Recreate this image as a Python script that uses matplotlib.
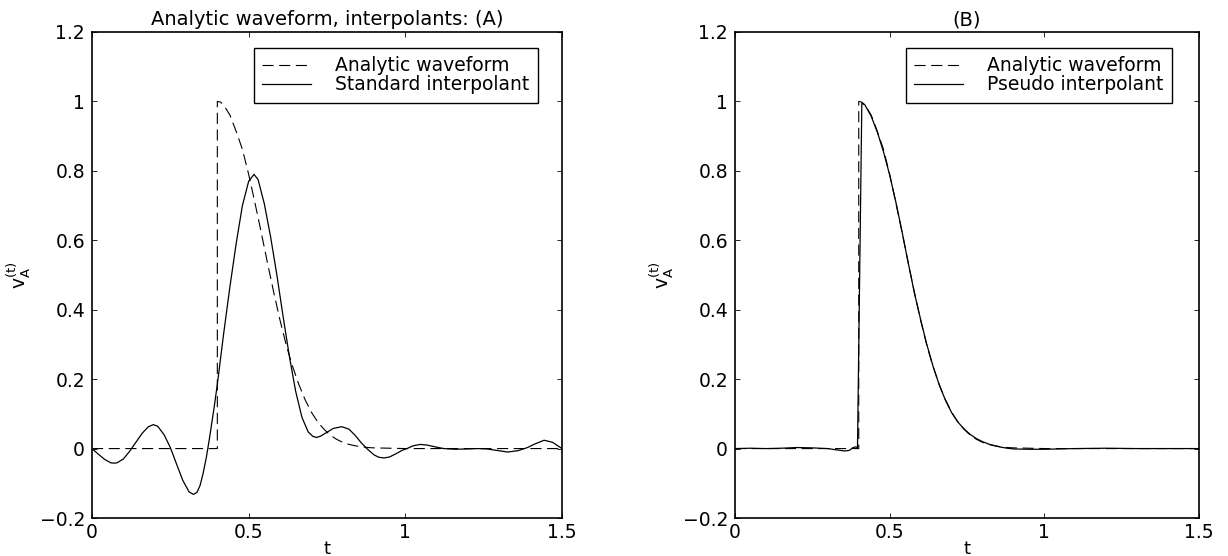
import matplotlib
matplotlib.use("Agg")
import matplotlib.pyplot as plt

# ---------------- data ----------------
t_analytic = [0.00, 0.40, 0.40, 0.41, 0.42, 0.44, 0.46, 0.48, 0.50, 0.52, 0.54,
              0.56, 0.58, 0.60, 0.62, 0.64, 0.66, 0.68, 0.70, 0.72, 0.74, 0.76,
              0.78, 0.80, 0.82, 0.84, 0.86, 0.88, 0.90, 0.95, 1.00, 1.50]
v_analytic = [0.000, 0.000, 1.000, 0.998, 0.990, 0.961, 0.914, 0.862, 0.790,
              0.708, 0.623, 0.535, 0.450, 0.370, 0.298, 0.237, 0.185, 0.141,
              0.105, 0.077, 0.056, 0.039, 0.027, 0.018, 0.012, 0.008, 0.005,
              0.003, 0.002, 0.001, 0.000, 0.000]

t_standard = [0.00, 0.02, 0.04, 0.06, 0.07, 0.08, 0.10, 0.12, 0.14, 0.16, 0.18,
              0.196, 0.21, 0.23, 0.25, 0.27, 0.29, 0.31, 0.324, 0.335, 0.345,
              0.355, 0.365, 0.375, 0.39, 0.40, 0.42, 0.44, 0.46, 0.48, 0.50,
              0.517, 0.53, 0.55, 0.57, 0.59, 0.61, 0.63, 0.65, 0.67, 0.69,
              0.705, 0.717, 0.73, 0.75, 0.77, 0.797, 0.82, 0.84, 0.86, 0.877,
              0.90, 0.915, 0.933, 0.95, 0.97, 0.99, 1.005, 1.025, 1.048, 1.07,
              1.10, 1.123, 1.16, 1.20, 1.23, 1.26, 1.29, 1.326, 1.36, 1.39,
              1.41, 1.443, 1.47, 1.49, 1.50]
v_standard = [0.000, -0.016, -0.031, -0.041, -0.042, -0.041, -0.030, -0.008,
              0.018, 0.044, 0.063, 0.069, 0.064, 0.040, 0.003, -0.045, -0.092,
              -0.125, -0.132, -0.126, -0.106, -0.070, -0.025, 0.030, 0.120,
              0.185, 0.330, 0.465, 0.590, 0.700, 0.770, 0.790, 0.775, 0.705,
              0.610, 0.500, 0.380, 0.265, 0.165, 0.090, 0.048, 0.035, 0.032,
              0.036, 0.047, 0.058, 0.063, 0.056, 0.038, 0.016, 0.000, -0.018,
              -0.025, -0.027, -0.024, -0.015, -0.005, 0.000, 0.008, 0.012,
              0.010, 0.004, 0.000, -0.002, -0.001, 0.000, -0.001, -0.005,
              -0.010, -0.006, 0.003, 0.012, 0.024, 0.018, 0.006, 0.000]

t_pseudo = [0.00, 0.05, 0.10, 0.15, 0.20, 0.25, 0.30, 0.33, 0.355, 0.37, 0.38,
            0.39, 0.396, 0.41, 0.42, 0.44, 0.46, 0.48, 0.50, 0.52, 0.54, 0.56,
            0.58, 0.60, 0.62, 0.64, 0.66, 0.68, 0.70, 0.72, 0.74, 0.76, 0.78,
            0.80, 0.82, 0.84, 0.86, 0.88, 0.90, 0.95, 1.00, 1.05, 1.10, 1.20,
            1.30, 1.40, 1.50]
v_pseudo = [0.000, 0.001, 0.000, 0.001, 0.003, 0.002, 0.000, -0.004, -0.007,
            -0.005, 0.002, 0.005, 0.003, 0.995, 0.990, 0.958, 0.912, 0.855,
            0.788, 0.710, 0.625, 0.535, 0.448, 0.372, 0.300, 0.238, 0.184,
            0.140, 0.104, 0.077, 0.057, 0.041, 0.029, 0.020, 0.013, 0.008,
            0.004, 0.001, -0.001, -0.002, -0.002, -0.001, 0.000, 0.001, 0.000,
            0.000, 0.000]

x_ticks = [0, 0.5, 1, 1.5]
x_ticklabels = ["0", "0.5", "1", "1.5"]
y_ticks = [-0.2, 0, 0.2, 0.4, 0.6, 0.8, 1, 1.2]
y_ticklabels = ["\u22120.2", "0", "0.2", "0.4", "0.6", "0.8", "1", "1.2"]

titles = ["Analytic waveform, interpolants: (A)", "(B)"]
legend_labels = [["Analytic waveform", "Standard interpolant"],
                 ["Analytic waveform", "Pseudo interpolant"]]

# ---------------- styling ----------------
FS = 13.5
plt.rcParams["font.family"] = ["DejaVu Sans"]
plt.rcParams["mathtext.fontset"] = "dejavusans"
plt.rcParams["lines.scale_dashes"] = False

fig = plt.figure(figsize=(12.28, 5.56), dpi=100)
W, H = 1228, 556
ax_boxes = [(92, 562), (735, 1199)]
top_px, bot_px = 32, 518

second = [(t_standard, v_standard), (t_pseudo, v_pseudo)]

for i, (x0, x1) in enumerate(ax_boxes):
    ax = fig.add_axes([x0 / W, 1 - bot_px / H, (x1 - x0) / W, (bot_px - top_px) / H])
    ax.plot(t_analytic, v_analytic, color="black", lw=0.8, ls=(0, (8, 4)),
            label=legend_labels[i][0])
    ts, vs = second[i]
    ax.plot(ts, vs, color="black", lw=0.9, ls="-", label=legend_labels[i][1])
    ax.set_xlim(0, 1.5)
    ax.set_ylim(-0.2, 1.2)
    ax.set_xticks(x_ticks)
    ax.set_xticklabels(x_ticklabels)
    ax.set_yticks(y_ticks)
    ax.set_yticklabels(y_ticklabels)
    ax.tick_params(direction="in", top=True, right=True, length=3.6, width=0.6,
                   labelsize=FS, pad=3.5)
    ax.tick_params(axis="y", pad=5)
    for s in ax.spines.values():
        s.set_linewidth(1.2)
    ax.set_title(titles[i], fontsize=FS + 0.5, pad=5)
    ax.set_xlabel("t", fontsize=FS - 0.5)
    ax.xaxis.set_label_coords(0.5, -0.046)
    ax.set_ylabel(r"$\mathregular{v_A^{(t)}}$", fontsize=FS, labelpad=5)
    # legend anchored to the box's upper-right corner
    rx = ((538 if i == 0 else 1172) - x0) / (x1 - x0)
    ry = (bot_px - 48) / (bot_px - top_px)
    leg = ax.legend(loc="upper right", bbox_to_anchor=(rx, ry), borderaxespad=0,
                    fontsize=FS, fancybox=False, framealpha=1, edgecolor="black",
                    handlelength=2.6, handletextpad=1.3, labelspacing=0.0,
                    borderpad=0.45)
    leg.get_frame().set_linewidth(1.0)

fig.savefig("out.png", dpi=100)
